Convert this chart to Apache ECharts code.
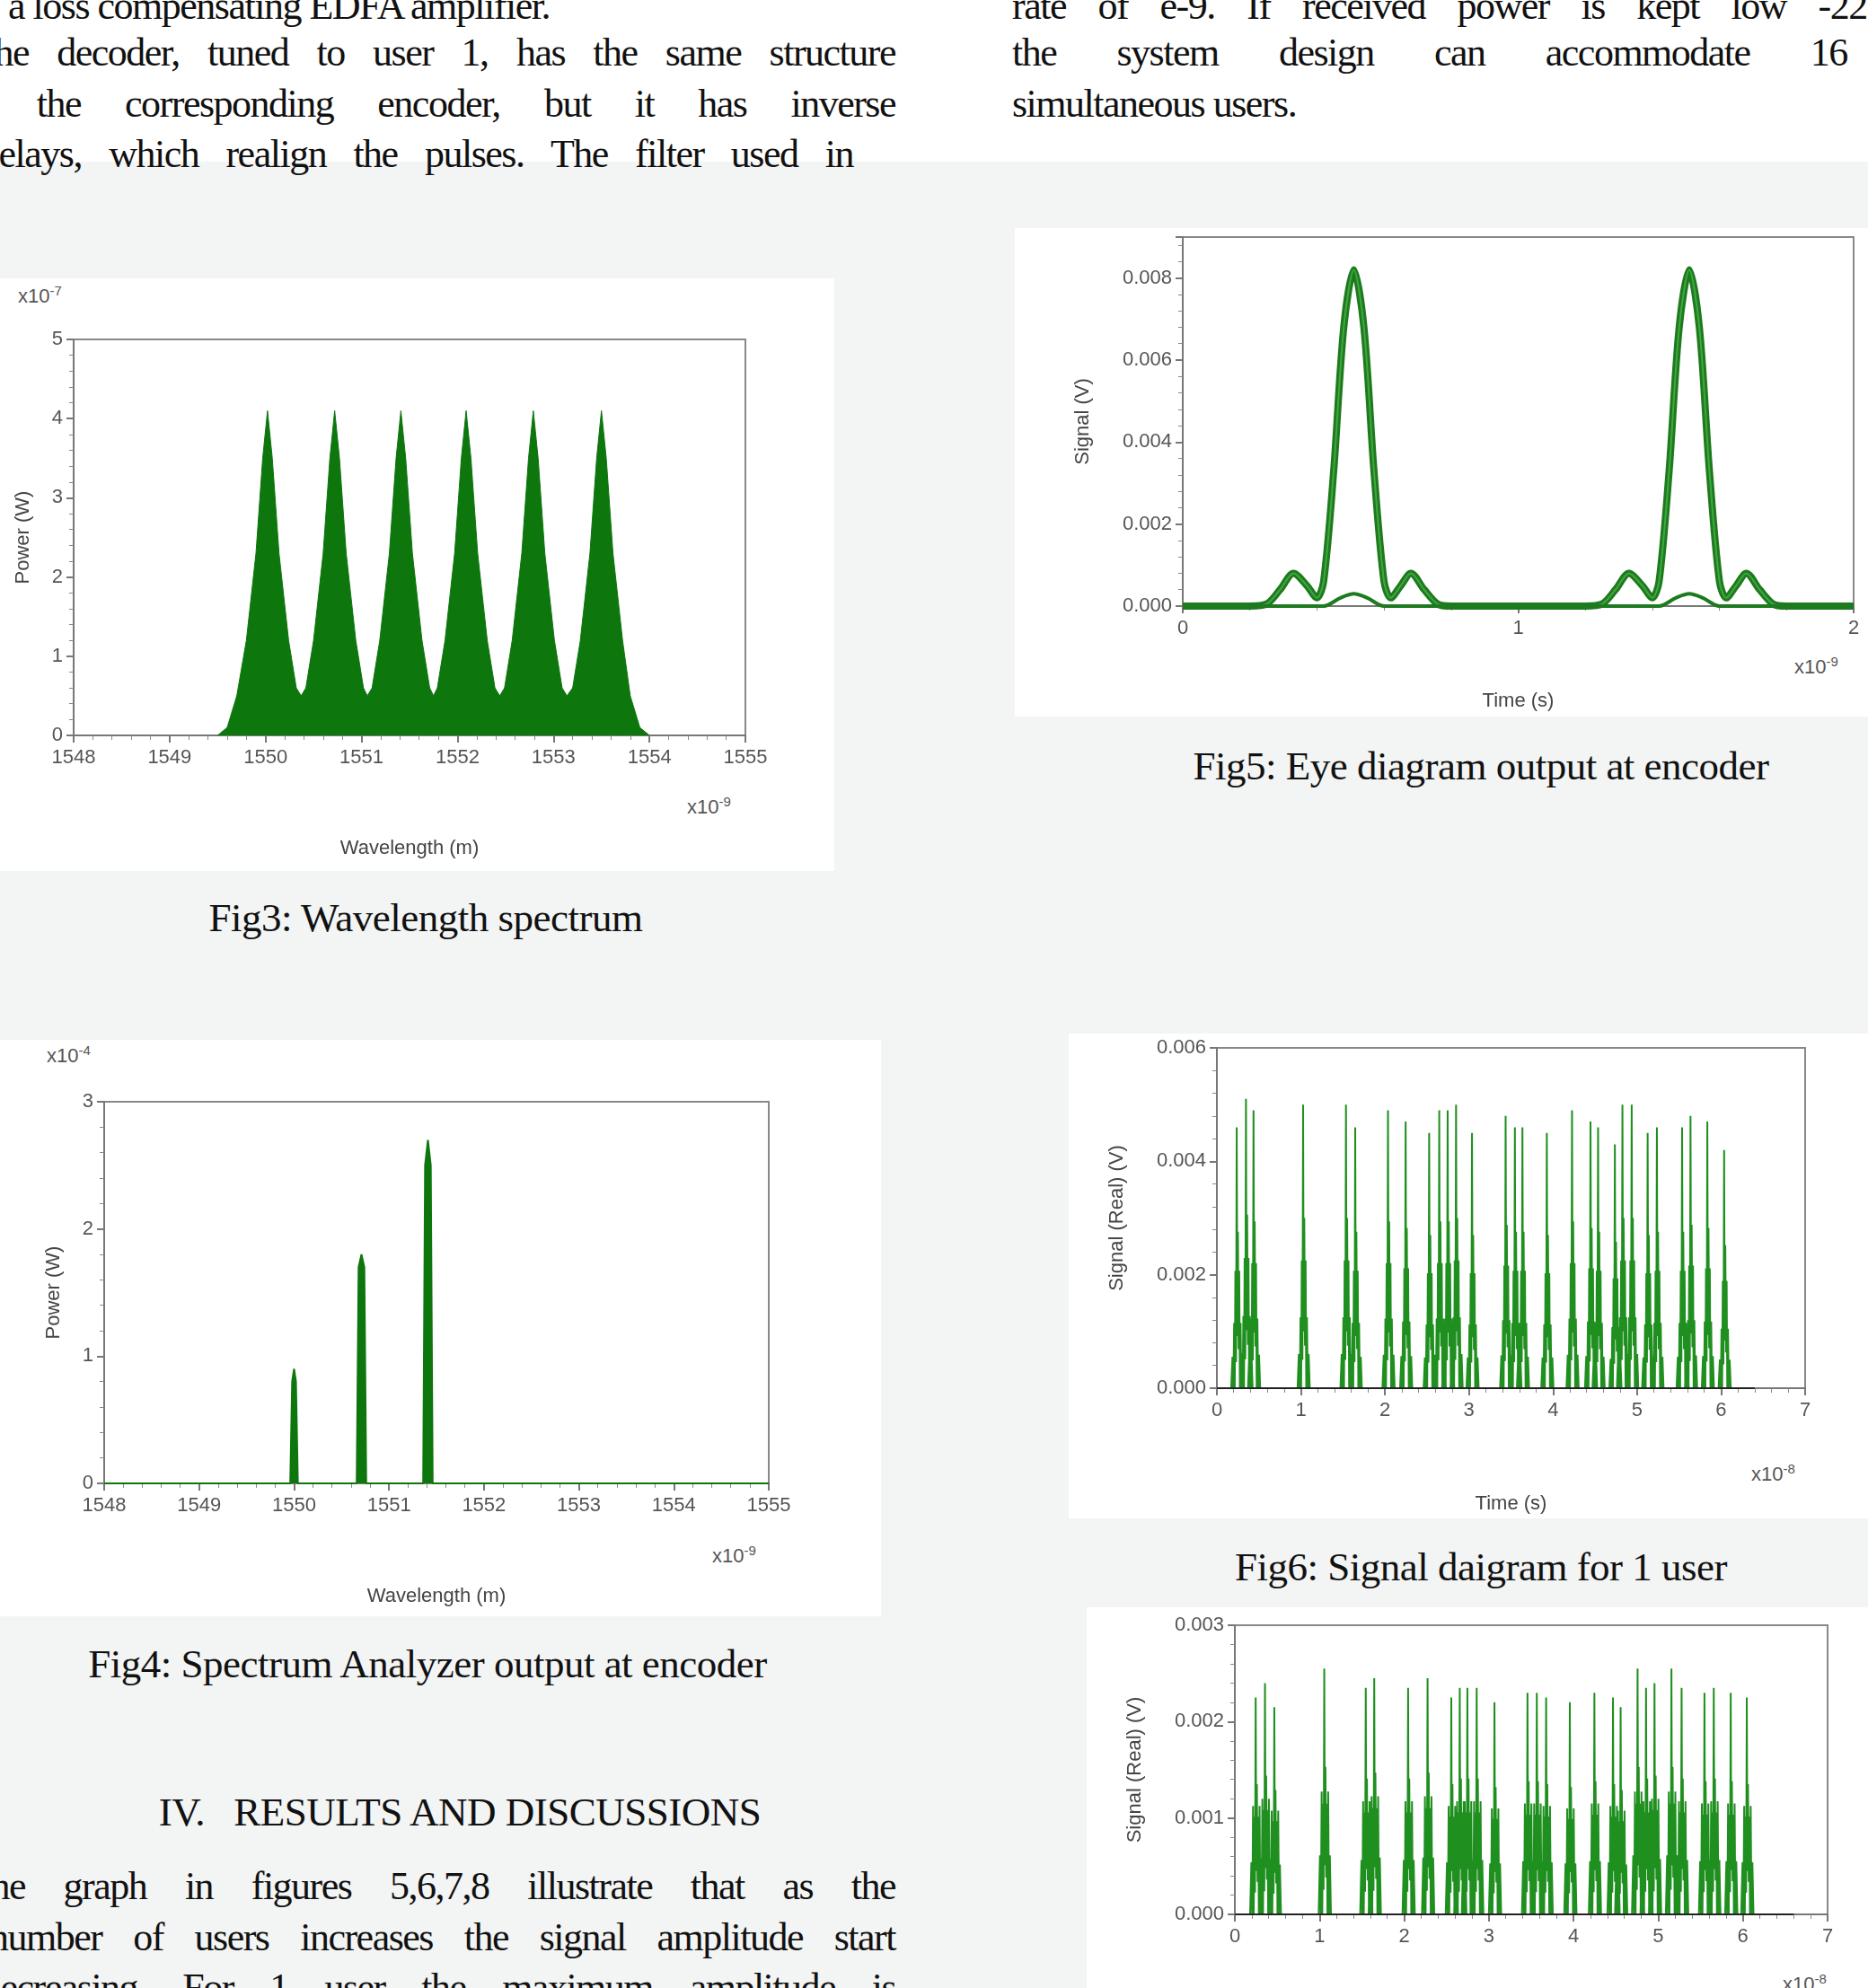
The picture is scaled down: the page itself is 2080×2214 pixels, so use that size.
<!DOCTYPE html>
<html><head><meta charset="utf-8">
<script src="https://cdn.jsdelivr.net/npm/echarts@6/dist/echarts.min.js"></script>
<style>
html,body{margin:0;padding:0;width:2080px;height:2214px;overflow:hidden;background:#fff;}
#page{position:relative;width:2080px;height:2214px;overflow:hidden;font-family:"Liberation Serif",serif;color:#111;}
.ln{position:absolute;font-size:44px;line-height:50px;white-space:nowrap;text-align:justify;text-align-last:justify;letter-spacing:-1.5px;}
.cap{position:absolute;font-size:45px;line-height:50px;white-space:nowrap;transform:translate(-50%,-50%);letter-spacing:-0.5px;}
.panel{position:absolute;background:#fff;}
.wm{position:absolute;background:#eceeee;}
.small{position:absolute;font-family:"Liberation Sans",Arial,sans-serif;font-size:22px;color:#555;white-space:nowrap;}
#chart{position:absolute;left:0;top:0;width:2080px;height:2214px;}
</style></head>
<body><div id="page">
<div class="wm" style="left:0;top:180px;width:2080px;height:2034px;background:#f3f4f4"></div>
<div class="panel" style="left:0;top:310px;width:929px;height:660px"></div>
<div class="panel" style="left:1130px;top:254px;width:950px;height:544px"></div>
<div class="panel" style="left:0;top:1158px;width:981px;height:642px"></div>
<div class="panel" style="left:1190px;top:1151px;width:890px;height:540px"></div>
<div class="panel" style="left:1210px;top:1790px;width:870px;height:424px"></div>

<div class="ln" style="left:-10px;top:-18px;width:1007px;text-align:left;text-align-last:left;">&nbsp;&nbsp;a loss compensating EDFA amplifier.</div>
<div class="ln" style="left:-32px;top:34px;width:1029px">The decoder, tuned to user 1, has the same structure</div>
<div class="ln" style="left:-42px;top:91px;width:1039px">as the corresponding encoder, but it has inverse</div>
<div class="ln" style="left:-22px;top:147px;width:972px">delays, which realign the pulses. The filter used in</div>

<div class="ln" style="left:1127px;top:-18px;width:1000px">rate of e-9. If received power is kept low -22dB</div>
<div class="ln" style="left:1127px;top:34px;width:1080px">the system design can accommodate 16 users</div>
<div class="ln" style="left:1127px;top:91px;text-align:left;text-align-last:left;">simultaneous users.</div>

<div class="cap" style="left:474px;top:1022px">Fig3: Wavelength spectrum</div>
<div class="cap" style="left:1649px;top:853px">Fig5: Eye diagram output at encoder</div>
<div class="cap" style="left:476px;top:1853px">Fig4: Spectrum Analyzer output at encoder</div>
<div class="cap" style="left:1649px;top:1745px">Fig6: Signal daigram for 1 user</div>
<div class="cap" style="left:512px;top:2018px">IV.&nbsp;&nbsp;&nbsp;RESULTS AND DISCUSSIONS</div>

<div class="ln" style="left:-36px;top:2076px;width:1033px">The graph in figures 5,6,7,8 illustrate that as the</div>
<div class="ln" style="left:-12px;top:2133px;width:1009px">number of users increases the signal amplitude start</div>
<div class="ln" style="left:-20px;top:2189px;width:1017px">decreasing. For 1 user the maximum amplitude is</div>

<div class="small" style="left:20px;top:315px">x10<sup style="font-size:15px">-7</sup></div>
<div class="small" style="left:765px;top:884px">x10<sup style="font-size:15px">-9</sup></div>
<div class="small" style="left:52px;top:1161px">x10<sup style="font-size:15px">-4</sup></div>
<div class="small" style="left:793px;top:1718px">x10<sup style="font-size:15px">-9</sup></div>
<div class="small" style="left:1998px;top:728px">x10<sup style="font-size:15px">-9</sup></div>
<div class="small" style="left:1950px;top:1627px">x10<sup style="font-size:15px">-8</sup></div>
<div class="small" style="left:1985px;top:2195px">x10<sup style="font-size:15px">-8</sup></div>
<div id="chart"></div>
</div>
<script>
// ---- data ----
// Fig3: wavelength spectrum (nm, x1e-7 W)
var fig3Spectrum = [
[1549.5,0],[1549.6,0.1],[1549.7,0.5],[1549.8,1.2],[1549.9,2.3],[1549.97,3.5],[1550.02,4.1],[1550.07,3.5],[1550.14,2.3],[1550.24,1.2],[1550.32,0.6],[1550.37,0.5],
[1550.42,0.6],[1550.5,1.2],[1550.6,2.3],[1550.67,3.5],[1550.72,4.1],[1550.77,3.5],[1550.84,2.3],[1550.94,1.2],[1551.02,0.6],[1551.06,0.5],
[1551.11,0.6],[1551.19,1.2],[1551.29,2.3],[1551.36,3.5],[1551.41,4.1],[1551.46,3.5],[1551.53,2.3],[1551.63,1.2],[1551.71,0.6],[1551.75,0.5],
[1551.79,0.6],[1551.87,1.2],[1551.97,2.3],[1552.04,3.5],[1552.09,4.1],[1552.14,3.5],[1552.21,2.3],[1552.31,1.2],[1552.39,0.6],[1552.44,0.5],
[1552.49,0.6],[1552.57,1.2],[1552.67,2.3],[1552.74,3.5],[1552.79,4.1],[1552.84,3.5],[1552.91,2.3],[1553.01,1.2],[1553.09,0.6],[1553.14,0.5],
[1553.2,0.6],[1553.28,1.2],[1553.38,2.3],[1553.45,3.5],[1553.5,4.1],[1553.55,3.5],[1553.62,2.3],[1553.72,1.2],[1553.8,0.5],[1553.9,0.1],[1554.0,0]
];
// Fig4: spectrum analyzer (nm, x1e-4 W)
var fig4Spectrum = [
[1548,0],[1549.96,0],[1549.98,0.8],[1550.0,0.9],[1550.02,0.8],[1550.04,0],
[1550.66,0],[1550.68,1.7],[1550.71,1.8],[1550.74,1.7],[1550.76,0],
[1551.36,0],[1551.38,2.5],[1551.41,2.7],[1551.44,2.5],[1551.46,0],[1555,0]
];
// Fig5: eye diagram (x1e-9 s, V)
var eyeMain = [
[0,0],[0.2,0],[0.25,0.00005],[0.29,0.0004],[0.33,0.0008],[0.37,0.0005],[0.4,0.0002],[0.42,0.0006],[0.45,0.0033],[0.48,0.0068],[0.51,0.0082],[0.54,0.0068],[0.57,0.0033],[0.6,0.0006],[0.62,0.0002],[0.65,0.0005],[0.68,0.0008],[0.72,0.0004],[0.76,0.00005],[0.8,0],
[1.2,0],[1.25,0.00005],[1.29,0.0004],[1.33,0.0008],[1.37,0.0005],[1.4,0.0002],[1.42,0.0006],[1.45,0.0033],[1.48,0.0068],[1.51,0.0082],[1.54,0.0068],[1.57,0.0033],[1.6,0.0006],[1.62,0.0002],[1.65,0.0005],[1.68,0.0008],[1.72,0.0004],[1.76,0.00005],[1.8,0],[2,0]
];
var eyeLow = [[0,0],[0.42,0],[0.47,0.0002],[0.51,0.0003],[0.55,0.0002],[0.6,0],[1.42,0],[1.47,0.0002],[1.51,0.0003],[1.55,0.0002],[1.6,0],[2,0]];
// Fig6: pulse times (x1e-8 s) and peak heights (mV)
var fig6Times = [0.24,0.35,0.44,1.03,1.54,1.65,2.04,2.25,2.53,2.65,2.75,2.85,3.04,3.44,3.55,3.64,3.93,4.23,4.45,4.54,4.74,4.83,4.94,5.13,5.24,5.54,5.64,5.84,6.04];
var fig6Peaks = [4.6,5.1,4.9,5.0,5.0,4.6,4.9,4.7,4.5,4.9,4.9,5.0,4.5,4.8,4.6,4.6,4.5,4.9,4.7,4.6,4.3,5.0,5.0,4.5,4.6,4.6,4.8,4.7,4.2];
// Fig7
var fig7Times = [0.25,0.36,0.47,1.06,1.55,1.65,2.05,2.28,2.56,2.66,2.75,2.86,3.07,3.46,3.57,3.68,3.96,4.25,4.47,4.56,4.76,4.86,4.96,5.16,5.28,5.55,5.66,5.86,6.05];
var fig7Peaks = [2.25,2.4,2.15,2.55,2.35,2.45,2.35,2.45,2.25,2.35,2.35,2.35,2.2,2.3,2.3,2.25,2.2,2.3,2.25,2.15,2.55,2.35,2.4,2.55,2.35,2.3,2.35,2.3,2.25];

// ---- build ----
function burst(times, peaks, fat){
  // glyph shape of each pulse burst relative to its peak (styling)
  var tpl = [[-0.07,0],[-0.055,0.12*fat],[-0.045,-0.03],[-0.035,0.25*fat],[-0.028,-0.04],[-0.02,0.45],[-0.012,0.1],[-0.004,1.0],[0.003,0.2],[0.01,0.6],[0.018,0.15],[0.026,0.45],[0.034,-0.04],[0.042,0.25*fat],[0.052,-0.03],[0.062,0.12*fat],[0.075,0]];
  var out=[[0,0]];
  for (var i=0;i<times.length;i++){
    for (var k=0;k<tpl.length;k++) out.push([times[i]+tpl[k][0], tpl[k][1]*peaks[i]*1e-3]);
  }
  out.push([6.4,0]);
  return out;
}
var axLab = {color:'#555',fontSize:22,fontFamily:'Liberation Sans'};
var axLine = {show:true,lineStyle:{color:'#777',width:2}};
function plain(v){return String(v);}
function xAx(gi,min,max,iv,name,gap,fmt){
  return {type:'value',gridIndex:gi,min:min,max:max,interval:iv,name:name,nameLocation:'middle',nameGap:gap,
    nameTextStyle:{color:'#444',fontSize:22,fontFamily:'Liberation Sans'},
    axisLine:axLine,axisTick:{show:true,length:8,lineStyle:{color:'#777',width:2}},
    minorTick:{show:true,splitNumber:5,length:5,lineStyle:{color:'#888'}},
    splitLine:{show:false},axisLabel:Object.assign({margin:14,formatter:fmt||plain},axLab)};
}
function yAx(gi,min,max,iv,name,gap,fmt,hideMax){
  return {type:'value',gridIndex:gi,min:min,max:max,interval:iv,name:name,nameLocation:'middle',nameGap:gap,
    nameTextStyle:{color:'#444',fontSize:22,fontFamily:'Liberation Sans'},
    axisLine:axLine,axisTick:{show:true,length:8,lineStyle:{color:'#777',width:2}},
    minorTick:{show:true,splitNumber:5,length:5,lineStyle:{color:'#888'}},
    splitLine:{show:false},axisLabel:Object.assign({margin:12,formatter:fmt||plain,showMaxLabel:!hideMax},axLab)};
}
var f3 = function(v){return Math.abs(v).toFixed(3);};
var grids = [
 {left:82,top:378,width:748,height:441},
 {left:1317,top:264,width:747,height:411},
 {left:116,top:1227,width:740,height:425},
 {left:1355,top:1167,width:655,height:379},
 {left:1375,top:1810,width:660,height:322}
].map(function(g){return Object.assign({show:true,borderColor:'#888',borderWidth:2,backgroundColor:'transparent'},g);});

var opt = {
  animation:false,
  grid:grids,
  xAxis:[
    xAx(0,1548,1555,1,'Wavelength (m)',115),
    xAx(1,0,2,1,'Time (s)',95),
    xAx(2,1548,1555,1,'Wavelength (m)',115),
    xAx(3,0,7,1,'Time (s)',118),
    xAx(4,0,7,1,'',40)
  ],
  yAxis:[
    yAx(0,0,5,1,'Power (W)',45),
    yAx(1,0,0.009,0.002,'Signal (V)',100,f3,true),
    yAx(2,0,3,1,'Power (W)',45),
    yAx(3,0,0.006,0.002,'Signal (Real) (V)',100,f3),
    yAx(4,0,0.003,0.001,'Signal (Real) (V)',100,f3)
  ],
  series:[
    {type:'line',xAxisIndex:0,yAxisIndex:0,data:fig3Spectrum,showSymbol:false,lineStyle:{color:'#0d760d',width:1},areaStyle:{color:'#0d760d',opacity:1}},
    {type:'line',xAxisIndex:1,yAxisIndex:1,data:eyeMain,showSymbol:false,smooth:0.3,lineStyle:{color:'#1e7a1e',width:8}},
    {type:'line',xAxisIndex:1,yAxisIndex:1,data:eyeMain,showSymbol:false,smooth:0.3,lineStyle:{color:'#3fa83f',width:2}},
    {type:'line',xAxisIndex:1,yAxisIndex:1,data:eyeLow,showSymbol:false,smooth:0.3,lineStyle:{color:'#1e7a1e',width:4}},
    {type:'line',xAxisIndex:2,yAxisIndex:2,data:fig4Spectrum,showSymbol:false,lineStyle:{color:'#0d760d',width:2},areaStyle:{color:'#0d760d',opacity:1}},
    {type:'line',xAxisIndex:3,yAxisIndex:3,data:burst(fig6Times,fig6Peaks,1),showSymbol:false,lineStyle:{color:'#1f8f1f',width:2}},
    {type:'line',xAxisIndex:3,yAxisIndex:3,data:[[0,0],[6.4,0]],showSymbol:false,lineStyle:{color:'#222',width:2}},
    {type:'line',xAxisIndex:4,yAxisIndex:4,data:burst(fig7Times,fig7Peaks,2),showSymbol:false,lineStyle:{color:'#1f8f1f',width:2}},
    {type:'line',xAxisIndex:4,yAxisIndex:4,data:[[0,0],[6.6,0]],showSymbol:false,lineStyle:{color:'#222',width:2}}
  ]
};
var chart = echarts.init(document.getElementById('chart'),null,{renderer:'canvas'});
chart.setOption(opt);
</script>
</body></html>
